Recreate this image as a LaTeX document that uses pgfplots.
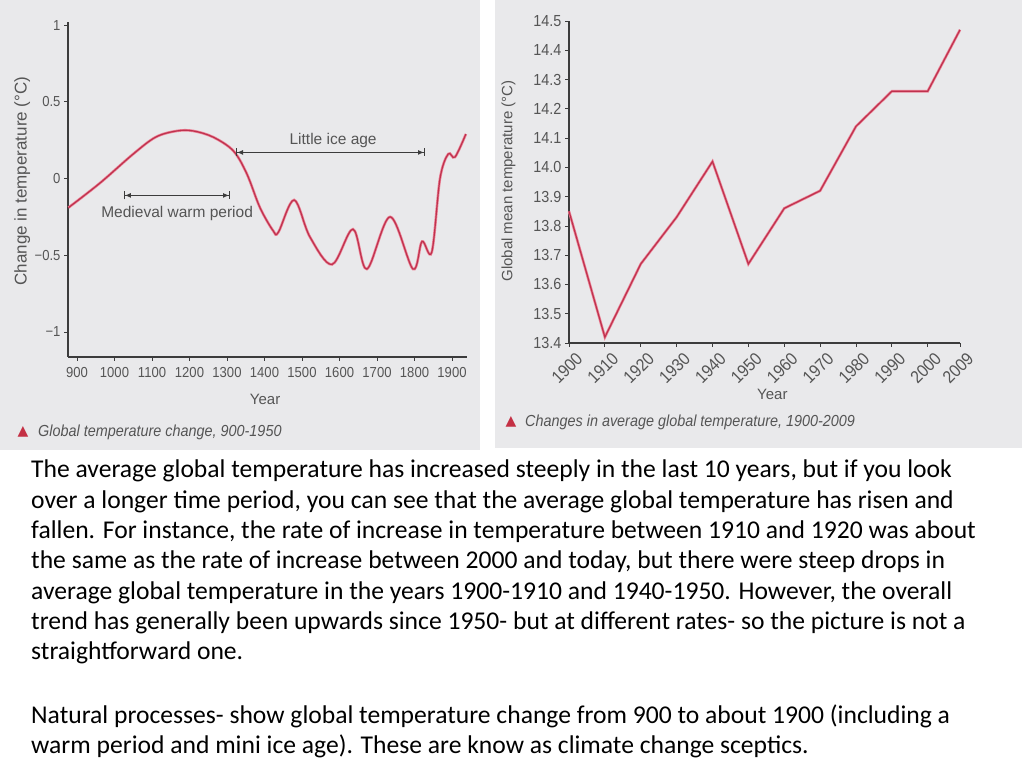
\documentclass[border=0pt]{standalone}
\usepackage{fontspec}
\setmainfont{Carlito}
\newfontfamily\chartfont[FakeStretch=0.9]{Liberation Sans}
\newfontfamily\labelfont{Liberation Sans}
\newfontfamily\symfont{DejaVu Sans}
\usepackage{pgfplots}
\pgfplotsset{compat=1.18}
\usetikzlibrary{arrows.meta}

\definecolor{panelgray}{RGB}{233,233,235}
\definecolor{inkgray}{RGB}{85,85,85}
\definecolor{axisgray}{RGB}{60,60,60}
\definecolor{curvecore}{RGB}{190,50,78}
\definecolor{curvehalo}{RGB}{236,128,148}
\definecolor{markred}{RGB}{196,48,68}

\tikzset{
  span arrow/.style={axisgray, line width=1pt,
    {Bar[width=8pt]Latex[length=6pt,width=5pt]}-{Latex[length=6pt,width=5pt]Bar[width=8pt]}},
  scan line/.style={draw=curvecore, line width=1.2pt,
    preaction={draw=curvehalo, line width=2.6pt}},
}
\pgfplotsset{
  slide chart/.style={
    scale only axis, anchor=south west, clip=false,
    axis lines=left, axis line style={-, axisgray, line width=1.1pt},
    tick align=outside, major tick length=4pt,
    tick style={axisgray, line width=0.8pt},
    label style={font=\labelfont\fontsize{15}{17}\selectfont, text=inkgray},
  },
}

\begin{document}
\begin{tikzpicture}
\fill[white] (0,0) rectangle (1024pt,768pt);
\useasboundingbox (0,0) rectangle (1024pt,768pt);
% grey panels behind the two scanned charts
\fill[panelgray] (0pt,318pt) rectangle (480pt,768pt);
\fill[panelgray] (495pt,320pt) rectangle (1022pt,768pt);

% left: change in temperature 900-1950
\begin{axis}[slide chart, at={(68pt,411pt)}, width=399pt, height=335pt,
  xmin=876, xmax=1940, ymin=-1.163, ymax=1.02,
  xtick={900,1000,1100,1200,1300,1400,1500,1600,1700,1800,1900},
  xticklabels={900,1000,1100,1200,1300,1400,1500,1600,1700,1800,1900},
  xticklabel style={yshift=-3pt, font=\chartfont\fontsize{14.5}{16}\selectfont, text=inkgray},
  ytick={-1,-0.5,0,0.5,1},
  yticklabels={−1,−0.5,0,0.5,1},
  yticklabel style={font=\chartfont\fontsize{14.5}{16}\selectfont, text=inkgray},
  xlabel={Year}, ylabel={Change in temperature (°C)},
  xlabel style={at={(axis description cs:0.494,-0.128)}, anchor=center},
  ylabel style={at={(axis description cs:-0.115,0.525)}, anchor=center,
    font=\labelfont\fontsize{17}{19}\selectfont},
]
\addplot[scan line, smooth, tension=0.55] coordinates {
  (877,-0.19) (961,-0.03) (1050,0.16) (1110,0.27) (1166,0.31) (1210,0.31)
  (1263,0.27) (1317,0.18) (1353,0.03) (1388,-0.19) (1423,-0.34) (1437,-0.35)
  (1479,-0.14) (1521,-0.38) (1580,-0.56) (1636,-0.33) (1673,-0.59)
  (1735,-0.25) (1796,-0.59) (1820,-0.41) (1846,-0.48) (1868,0.0)
  (1890,0.16) (1908,0.14) (1937,0.29)
};
\draw[span arrow] (axis cs:1025,-0.11) -- (axis cs:1308,-0.11);
\node[font=\labelfont\fontsize{15.5}{17}\selectfont, text=inkgray]
  at (axis cs:1167,-0.225) {Medieval warm period};
\draw[span arrow] (axis cs:1324,0.17) -- (axis cs:1828,0.17);
\node[font=\labelfont\fontsize{15.5}{17}\selectfont, text=inkgray]
  at (axis cs:1583,0.25) {Little ice age};
\end{axis}

% right: global mean temperature 1900-2009
\begin{axis}[slide chart, at={(569pt,425pt)}, width=391pt, height=322pt,
  xmin=1900, xmax=2009, ymin=13.4, ymax=14.5,
  xtick={1900,1910,1920,1930,1940,1950,1960,1970,1980,1990,2000,2009},
  xticklabels={1900,1910,1920,1930,1940,1950,1960,1970,1980,1990,2000,2009},
  xticklabel style={xshift=6pt, yshift=-4pt, rotate=45, anchor=north east, inner sep=0pt,
    font=\chartfont\fontsize{17.5}{18}\selectfont, text=inkgray},
  ytick={13.4,13.5,13.6,13.7,13.8,13.9,14.0,14.1,14.2,14.3,14.4,14.5},
  yticklabels={13.4,13.5,13.6,13.7,13.8,13.9,14.0,14.1,14.2,14.3,14.4,14.5},
  yticklabel style={font=\chartfont\fontsize{16}{17}\selectfont, text=inkgray},
  xlabel={Year}, ylabel={Global mean temperature (°C)},
  xlabel style={at={(axis description cs:0.52,-0.161)}, anchor=center},
  ylabel style={at={(axis description cs:-0.155,0.503)}, anchor=center},
]
\addplot[scan line] coordinates {
  (1900,13.85) (1910,13.42) (1920,13.67) (1930,13.83) (1940,14.02)
  (1950,13.67) (1960,13.86) (1970,13.92) (1980,14.14) (1990,14.26)
  (2000,14.26) (2009,14.47)
};
\end{axis}

% figure captions
\node[font=\symfont\fontsize{14}{15}\selectfont, text=markred] at (23pt,336pt) {▲};
\node[anchor=west, inner sep=0pt, font=\chartfont\itshape\fontsize{16}{17}\selectfont, text=inkgray]
  at (38pt,336pt) {Global temperature change, 900-1950};
\node[font=\symfont\fontsize{14}{15}\selectfont, text=markred] at (511pt,346pt) {▲};
\node[anchor=west, inner sep=0pt, font=\chartfont\itshape\fontsize{16}{17}\selectfont, text=inkgray]
  at (525pt,346pt) {Changes in average global temperature, 1900-2009};

% slide text
\begin{scope}[every node/.style={anchor=base west, inner sep=0pt,
    font=\fontsize{25.6}{30}\selectfont, text=black}]
\node at (31pt,290pt) {The average global temperature has increased steeply in the last 10 years, but if you look};
\node at (31pt,259.7pt) {over a longer time period, you can see that the average global temperature has risen and};
\node at (31pt,229.4pt) {fallen. For instance, the rate of increase in temperature between 1910 and 1920 was about};
\node at (31pt,199.1pt) {the same as the rate of increase between 2000 and today, but there were steep drops in};
\node at (31pt,168.8pt) {average global temperature in the years 1900-1910 and 1940-1950. However, the overall};
\node at (31pt,138.5pt) {trend has generally been upwards since 1950- but at different rates- so the picture is not a};
\node at (31pt,108.2pt) {straightforward one.};
\node at (31pt,45pt) {Natural processes- show global temperature change from 900 to about 1900 (including a};
\node at (31pt,15pt) {warm period and mini ice age). These are know as climate change sceptics.};
\end{scope}
\end{tikzpicture}
\end{document}
